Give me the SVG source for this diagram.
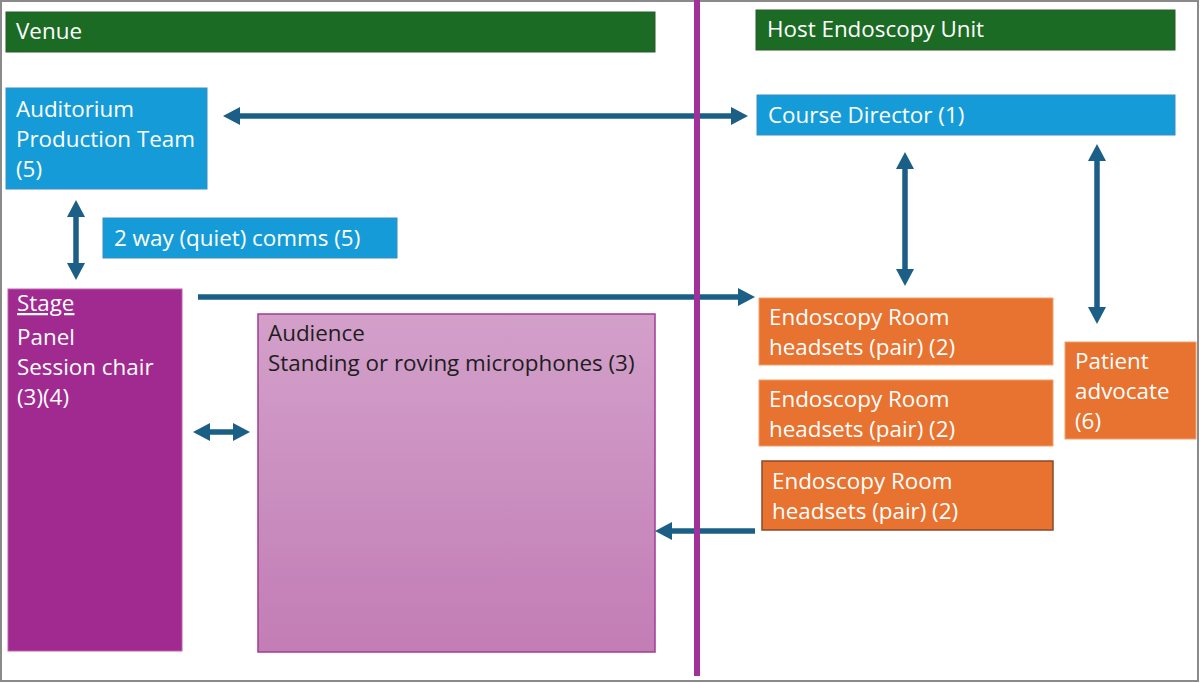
<svg xmlns="http://www.w3.org/2000/svg" width="1200" height="683" viewBox="0 0 1200 683">
<style>
text{font-family:"Open Sans","Liberation Sans",Arial,sans-serif;font-size:22.4px;fill:#ffffff}
.dark{fill:#1e1e1e}
.conn{stroke:#1b5f86;stroke-width:5.5;fill:none}
.green{fill:#1c6b25;stroke:#2a5a2a;stroke-width:1}
.blue{fill:#159cd8;stroke:#3a8cc0;stroke-width:1}
.orange{fill:#e8722f;stroke:#f0a070;stroke-width:1}
</style>
<defs>
<marker id="ah" viewBox="0 0 17 18" refX="1" refY="9" markerWidth="17" markerHeight="18" orient="auto-start-reverse" markerUnits="userSpaceOnUse">
<path d="M0,0 L17,9 L0,18 Z" fill="#1b5f86"/>
</marker>
<linearGradient id="aud" x1="0" y1="0" x2="0" y2="1">
<stop offset="0" stop-color="#d3a0ca"/>
<stop offset="1" stop-color="#c27db5"/>
</linearGradient>
</defs>
<rect x="1" y="1" width="1197" height="680" fill="#ffffff" stroke="#8a8a8a" stroke-width="2"/>

<g id="venue"><rect class="green" x="6" y="12" width="649" height="40"/><text x="16" y="39">Venue</text></g>
<g id="host"><rect class="green" x="756" y="10" width="419" height="40"/><text x="767" y="37">Host Endoscopy Unit</text></g>

<g id="auditorium"><rect class="blue" x="6" y="88" width="201" height="101"/>
<text x="16" y="117">Auditorium</text><text x="16" y="147">Production Team</text><text x="16" y="177">(5)</text></g>
<g id="comms"><rect class="blue" x="103" y="218" width="294" height="40"/><text x="114" y="246">2 way (quiet) comms (5)</text></g>
<g id="director"><rect class="blue" x="757" y="95" width="418" height="40"/><text x="768" y="123">Course Director (1)</text></g>

<g id="stage"><rect x="8" y="289" width="174" height="362" fill="#a02a90" stroke="#c060b0" stroke-width="1"/>
<text x="17" y="311" text-decoration="underline">Stage</text><text x="17" y="345">Panel</text><text x="17" y="375">Session chair</text><text x="17" y="405">(3)(4)</text></g>
<g id="audience"><rect x="258" y="314" width="397" height="338" fill="url(#aud)" stroke="#a03c96" stroke-width="1.5"/>
<text class="dark" x="268" y="341">Audience</text><text class="dark" x="268" y="371">Standing or roving microphones (3)</text></g>

<g id="room1"><rect class="orange" x="759" y="298" width="294" height="67"/><text x="769" y="325">Endoscopy Room</text><text x="769" y="355">headsets (pair) (2)</text></g>
<g id="room2"><rect class="orange" x="759" y="380" width="294" height="66"/><text x="769" y="407">Endoscopy Room</text><text x="769" y="437">headsets (pair) (2)</text></g>
<g id="room3"><rect x="762" y="461" width="291" height="69" fill="#e8722f" stroke="#8b4a2a" stroke-width="1.5"/><text x="772" y="489">Endoscopy Room</text><text x="772" y="519">headsets (pair) (2)</text></g>
<g id="advocate"><rect class="orange" x="1065" y="342" width="131" height="97"/><text x="1075" y="369">Patient</text><text x="1075" y="399">advocate</text><text x="1075" y="429">(6)</text></g>

<g id="connectors">
<line class="conn" x1="239" y1="116" x2="732" y2="116" marker-start="url(#ah)" marker-end="url(#ah)"/>
<line class="conn" x1="76" y1="216" x2="76" y2="264" marker-start="url(#ah)" marker-end="url(#ah)"/>
<line class="conn" x1="198" y1="297" x2="739" y2="297" marker-end="url(#ah)"/>
<line class="conn" x1="209" y1="432" x2="234" y2="432" marker-start="url(#ah)" marker-end="url(#ah)"/>
<line class="conn" x1="905" y1="168" x2="905" y2="270" marker-start="url(#ah)" marker-end="url(#ah)"/>
<line class="conn" x1="1097" y1="160" x2="1097" y2="308" marker-start="url(#ah)" marker-end="url(#ah)"/>
<line class="conn" x1="755" y1="531" x2="671" y2="531" marker-end="url(#ah)"/>
</g>
<rect x="694" y="0" width="6" height="676" fill="#a0309a"/>
</svg>
